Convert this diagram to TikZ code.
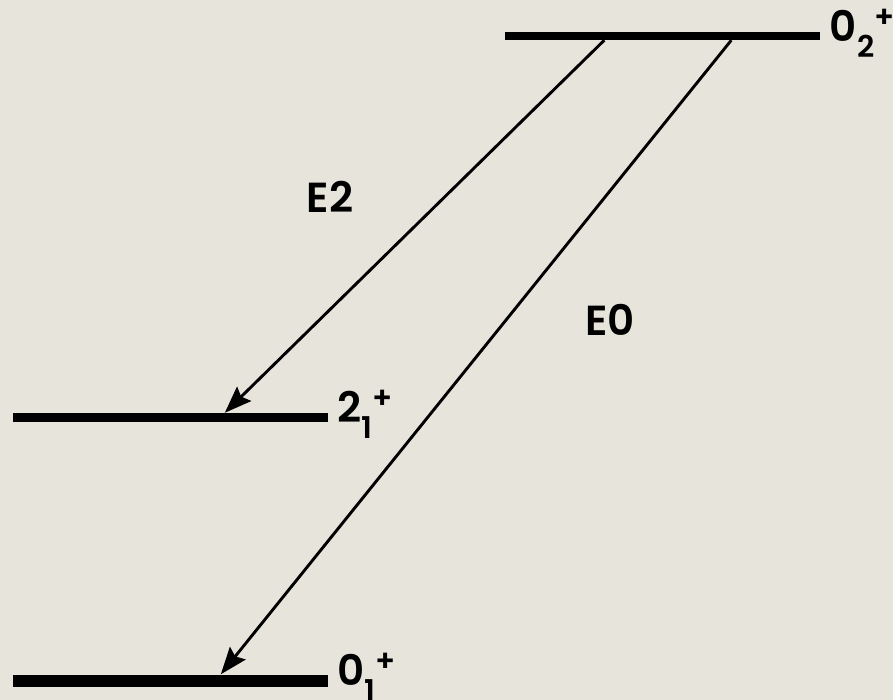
\documentclass[tikz,border=0pt]{standalone}
\usepackage{fontspec}
\setmainfont{Poppins}[UprightFont=* SemiBold]
\usepackage{tikz}
\usetikzlibrary{arrows.meta}
\definecolor{paper}{RGB}{231,228,220}
\newcommand{\levlab}[3]{#1\raisebox{-16pt}{\fontsize{30}{30}\selectfont #2}\raisebox{14pt}{\fontsize{30}{30}\selectfont #3}}

\begin{document}
\begin{tikzpicture}[x=1pt, y=-1pt,
  every node/.style={font=\fontsize{42}{42}\selectfont},
  level/.style={fill=black, inner sep=0pt, minimum width=315pt},
  trans/.style={-{Stealth[length=27pt, width=20pt, inset=4pt]}, line width=2.9pt},
  levtext/.style={anchor=base west, inner sep=0pt}]
% ---------------- Background ----------------
\fill[paper] (0,0) rectangle (893,700);
\useasboundingbox (0,0) rectangle (893,700);

% ---------------- Levels ----------------
\node[level, minimum height=8pt]  (g2) at (662,36) {};
\node[level, minimum height=9pt]  (e1) at (170.5,417.5) {};
\node[level, minimum height=12pt] (g1) at (170.5,680.5) {};

\node[levtext] (g2lab) at ([xshift=10pt, yshift=-6pt]g2.east) {\levlab{0}{2}{+}};
\node[levtext] (e1lab) at ([xshift=9pt, yshift=-5pt]e1.east) {\levlab{2}{1}{+}};
\node[levtext] (g1lab) at ([xshift=9pt, yshift=-5pt]g1.east) {\levlab{0}{1}{+}};

% ---------------- Transitions ----------------
\draw[trans] ([xshift=100pt]g2.south west) -- ([xshift=212pt]e1.north west);
\draw[trans] ([xshift=227pt]g2.south west) -- ([xshift=208pt]g1.north west);

\node (lE2) at (330,196.5) {E2};
\node (lE0) at (610,320) {E0};

\end{tikzpicture}
\end{document}
